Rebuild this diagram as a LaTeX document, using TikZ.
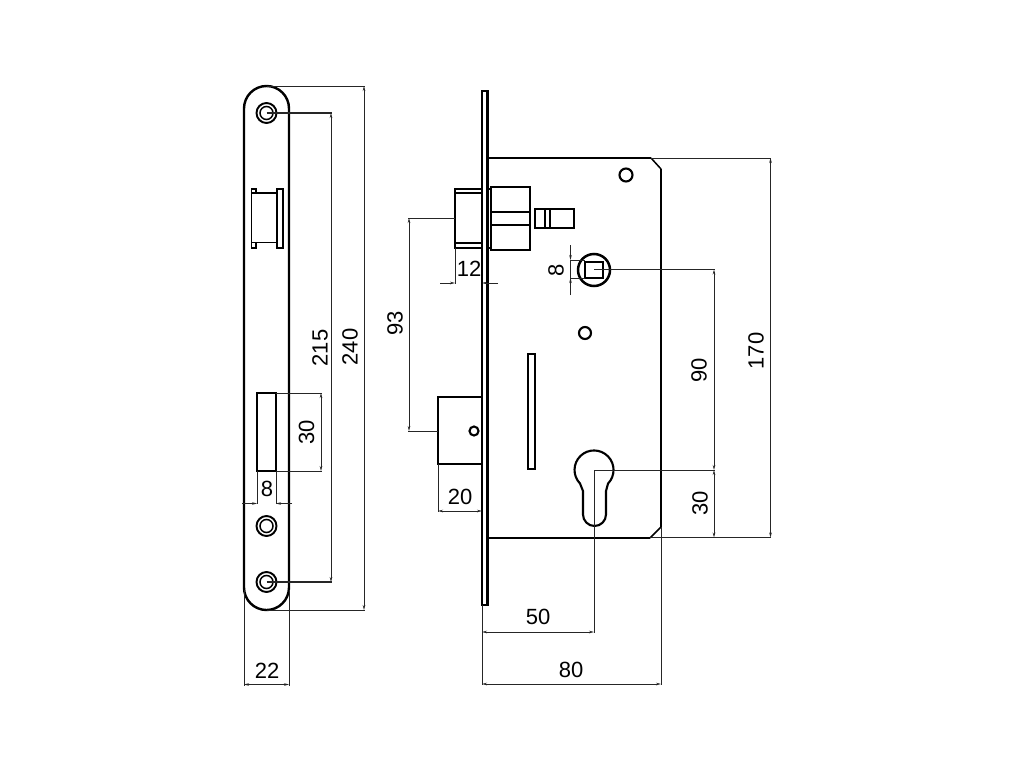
\documentclass[tikz,border=0pt]{standalone}
\usepackage{fontspec}
\setmainfont{Liberation Sans}
\usetikzlibrary{arrows.meta}
\tikzset{
  x=1pt,y=-1pt,
  part/.style={draw=black,line width=2.1pt,line join=miter},
  thinpart/.style={draw=black,line width=1.5pt},
  extline/.style={draw=black!85,line width=1pt},
  dimline/.style={draw=black!85,line width=1pt,{Stealth[length=5pt,width=2.6pt]}-{Stealth[length=5pt,width=2.6pt]}},
  dimarrow/.style={draw=black!85,line width=1pt,-{Stealth[length=5pt,width=2.6pt]}},
  dimtext/.style={font=\fontsize{22}{22}\selectfont,text=black,inner sep=0pt},
  vdimtext/.style={dimtext,rotate=90},
}
\begin{document}
\begin{tikzpicture}
\useasboundingbox (0,0) rectangle (1024,768);
\fill[white] (0,0) rectangle (1024,768);
% Front plate
\draw[part,line width=2.4pt] (244,108.5) arc[start angle=180,end angle=360,radius=22.5] -- (289,587.5) arc[start angle=0,end angle=180,radius=22.5] -- cycle;
\foreach \n/\y in {a/113,b/526,c/582}{
  \draw[thinpart,line width=1.9pt] (266.5,\y) circle[radius=10];
  \draw[thinpart] (266.5,\y) circle[radius=6.5];
}
% latch window
\draw[part,line width=1.9pt] (251.5,193) rectangle (277,242.5);
\draw[part,line width=1.9pt] (277,189) rectangle (283,248);
\draw[part,line width=1.9pt] (251.5,193) -- (251.5,189) -- (256,189) -- (256,193);
\draw[part,line width=1.9pt] (251.5,242.5) -- (251.5,248) -- (256,248) -- (256,242.5);
% bolt window
\draw[part] (257,393) rectangle (276,471);
% Side: forend
\draw[part] (482,91) rectangle (487.5,605);
% Case
\draw[part,line width=2.4pt] (487.5,158) -- (651,158) (661,169) -- (661,527) (650,538) -- (487.5,538);
\draw[thinpart] (651,158) -- (661,169);
\draw[thinpart] (661,527) -- (650,538);
% holes
\draw[part] (626,175) circle[radius=6.5];
\draw[part] (585,333) circle[radius=6];
\draw[part] (474,431) circle[radius=4.5];
% latch
\draw[part] (482,189) -- (455,189) -- (455,248) -- (482,248);
\draw[part] (455,193) -- (482,193);
\draw[part] (455,243) -- (482,243);
\draw[part] (491,187) rectangle (530,250);
\draw[part] (487.5,189) -- (491,189);
\draw[part] (487.5,248) -- (491,248);
\draw[part] (491,212) -- (530,212);
\draw[part] (491,225) -- (530,225);
% small slider
\draw[part] (535,209) rectangle (574,228);
\draw[thinpart] (545,209) -- (545,228);
\draw[thinpart] (550,209) -- (550,228);
% follower
\draw[part,line width=2.5pt] (594,270) circle[radius=16];
\draw[part] (585,262) rectangle (603,278);
% slot
\draw[part] (528,354) rectangle (535,469);
% deadbolt
\draw[part] (482,397) -- (438,397) -- (438,464) -- (482,464);
% keyhole
\draw[part] (580,483.5) arc[start angle=136,end angle=404,radius=19.5] -- (606,491) -- (606,514.5) arc[start angle=0,end angle=180,radius=11.5] -- (583,491) -- cycle;

% Dimensions, front view
\draw[extline] (266.5,86) -- (365,86);
\draw[extline] (266.5,610) -- (365,610);
\draw[dimline] (364,86) -- (364,610);
\draw[extline,line width=1.2pt] (266.5,113) -- (332,113);
\draw[extline,line width=1.2pt] (266.5,582) -- (332,582);
\draw[dimline] (331,113) -- (331,582);
\draw[extline] (276,393) -- (322,393);
\draw[extline] (276,471) -- (322,471);
\draw[dimline] (321,393) -- (321,471);
\draw[extline] (257,471) -- (257,504);
\draw[extline] (276,471) -- (276,504);
\draw[dimarrow] (242,503.5) -- (257,503.5);
\draw[dimarrow] (292,503.5) -- (276,503.5);
\draw[extline] (244,590) -- (244,686);
\draw[extline] (289,590) -- (289,686);
\draw[dimline] (244,684.5) -- (289,684.5);
% Dimensions, side view
\draw[extline] (455,218) -- (408,218);
\draw[extline] (438,431) -- (408,431);
\draw[dimline] (409,218) -- (409,431);
\draw[extline] (455,248) -- (455,284);
\draw[dimarrow] (440,283) -- (455,283);
\draw[dimarrow] (498,283) -- (482,283);
\draw[extline] (438,464) -- (438,512);
\draw[dimline] (438,511) -- (482,511);
\draw[extline] (570,260) -- (585,260);
\draw[extline] (570,278) -- (585,278);
\draw[extline] (570.5,260) -- (570.5,278);
\draw[dimarrow] (570.5,245) -- (570.5,260);
\draw[dimarrow] (570.5,295) -- (570.5,278);
\draw[extline] (594,269.5) -- (715,269.5);
\draw[dimline] (714,269.5) -- (714,470);
\draw[extline] (594,470) -- (715,470);
\draw[dimline] (714,470) -- (714,537.5);
\draw[extline] (650,537.5) -- (771,537.5);
\draw[extline] (651,158) -- (771,158);
\draw[dimline] (770.5,158) -- (770.5,537.5);
\draw[extline] (594,470) -- (594,633);
\draw[dimline] (482,632) -- (594,632);
\draw[extline] (482,605) -- (482,685);
\draw[extline] (661,527) -- (661,685);
\draw[dimline] (482,684) -- (661,684);

% Labels
\node[vdimtext] (t240) at (350,347) {240};
\node[vdimtext] (t215) at (320,348) {215};
\node[vdimtext] (t30a) at (306.5,432) {30};
\node[dimtext] (t8a) at (267,489) {8};
\node[dimtext] (t22) at (267,671) {22};
\node[vdimtext] (t93) at (395,323) {93};
\node[dimtext] (t12) at (469,269) {12};
\node[dimtext] (t20) at (460,497) {20};
\node[vdimtext] (t8b) at (556,270) {8};
\node[vdimtext] (t90) at (699,370) {90};
\node[vdimtext] (t30b) at (700,503.5) {30};
\node[vdimtext] (t170) at (756,351) {170};
\node[dimtext] (t50) at (538,617) {50};
\node[dimtext] (t80) at (571,670) {80};
\end{tikzpicture}
\end{document}
